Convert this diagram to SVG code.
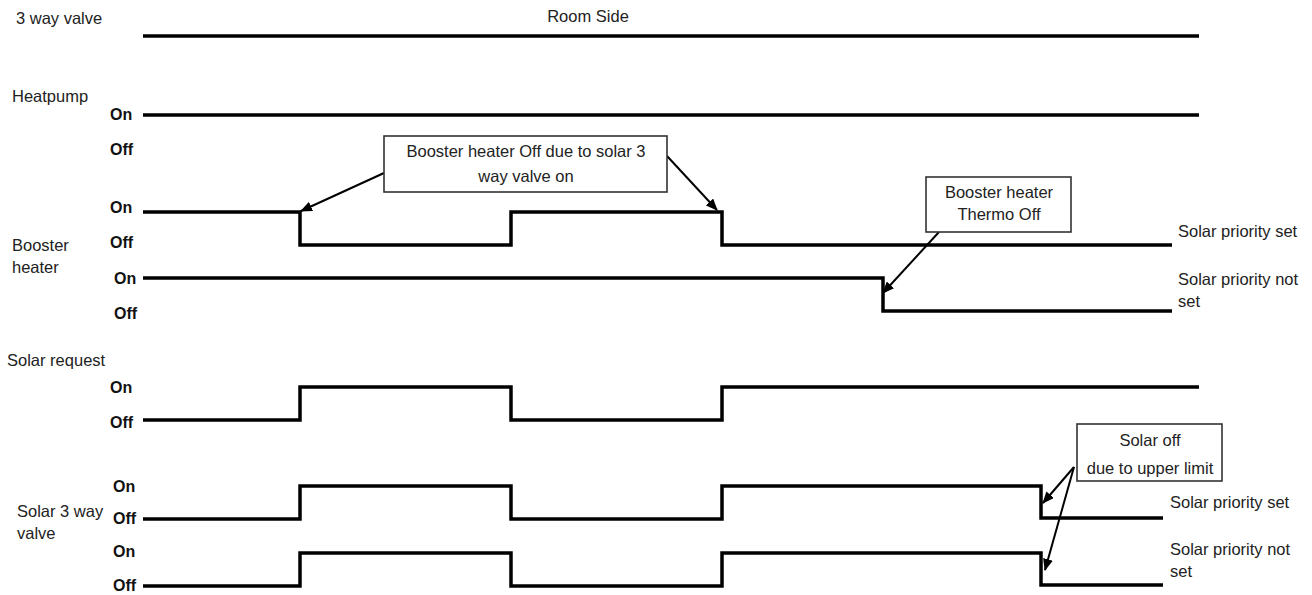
<svg xmlns="http://www.w3.org/2000/svg" width="1312" height="595" viewBox="0 0 1312 595">
<style>
text{font-family:"Liberation Sans",Arial,sans-serif;font-size:16.5px;fill:#222}
.st{font-weight:bold;fill:#111;font-size:16px}
.sig{fill:none;stroke:#000;stroke-width:3.5;stroke-linejoin:miter}
.box{fill:#fff;stroke:#333;stroke-width:1.6}
.arr{stroke:#000;stroke-width:2;fill:none;marker-end:url(#ah)}
.c{text-anchor:middle}
</style>
<defs>
<marker id="ah" markerUnits="userSpaceOnUse" markerWidth="12" markerHeight="10" refX="11" refY="5" orient="auto">
<path d="M0,0 L12,5 L0,10 Z" fill="#000"/>
</marker>
</defs>
<rect width="1312" height="595" fill="#fff"/>

<g id="labels">
<text x="16" y="24">3 way valve</text>
<text x="588" y="22" class="c">Room Side</text>
<text x="12" y="102">Heatpump</text>
<text x="110" y="120" class="st">On</text>
<text x="110" y="155" class="st">Off</text>
<text x="110" y="213" class="st">On</text>
<text x="110" y="248" class="st">Off</text>
<text x="12" y="251">Booster</text>
<text x="12" y="273">heater</text>
<text x="114" y="284" class="st">On</text>
<text x="114" y="319" class="st">Off</text>
<text x="7" y="366">Solar request</text>
<text x="110" y="393" class="st">On</text>
<text x="110" y="428" class="st">Off</text>
<text x="113" y="492" class="st">On</text>
<text x="17" y="517">Solar 3 way</text>
<text x="113" y="524" class="st">Off</text>
<text x="17" y="539">valve</text>
<text x="113" y="557" class="st">On</text>
<text x="113" y="591" class="st">Off</text>
<text x="1178" y="237">Solar priority set</text>
<text x="1178" y="285">Solar priority not</text>
<text x="1178" y="307">set</text>
<text x="1170" y="508">Solar priority set</text>
<text x="1170" y="555">Solar priority not</text>
<text x="1170" y="577">set</text>
</g>

<g id="signals">
<path class="sig" d="M143,36 H1199"/>
<path class="sig" d="M143,115 H1199"/>
<path class="sig" d="M143,212 H300 V245 H511 V212 H722 V245 H1172"/>
<path class="sig" d="M143,278 H883 V311 H1172"/>
<path class="sig" d="M143,420 H300 V387 H511 V420 H722 V387 H1199"/>
<path class="sig" d="M143,519 H300 V486 H511 V519 H722 V486 H1041 V518 H1163"/>
<path class="sig" d="M143,586 H300 V553 H511 V586 H722 V553 H1041 V585 H1163"/>
</g>

<g id="connectors">
<path class="arr" d="M384,173 L301,211"/>
<path class="arr" d="M667,156 L717,210"/>
<path class="arr" d="M939,232 L883,293"/>
<path class="arr" d="M1074,467 L1043,503"/>
<path class="arr" d="M1074,467 L1045,570"/>
</g>

<g id="callout1">
<rect class="box" x="384" y="136" width="283" height="56"/>
<text x="526" y="157" class="c">Booster heater Off due to solar 3</text>
<text x="526" y="182" class="c">way valve on</text>
</g>
<g id="callout2">
<rect class="box" x="926" y="177" width="145" height="55"/>
<text x="999" y="198" class="c">Booster heater</text>
<text x="999" y="220" class="c">Thermo Off</text>
</g>
<g id="callout3">
<rect class="box" x="1077" y="424" width="145" height="57"/>
<text x="1150" y="446" class="c">Solar off</text>
<text x="1150" y="474" class="c">due to upper limit</text>
</g>
</svg>
